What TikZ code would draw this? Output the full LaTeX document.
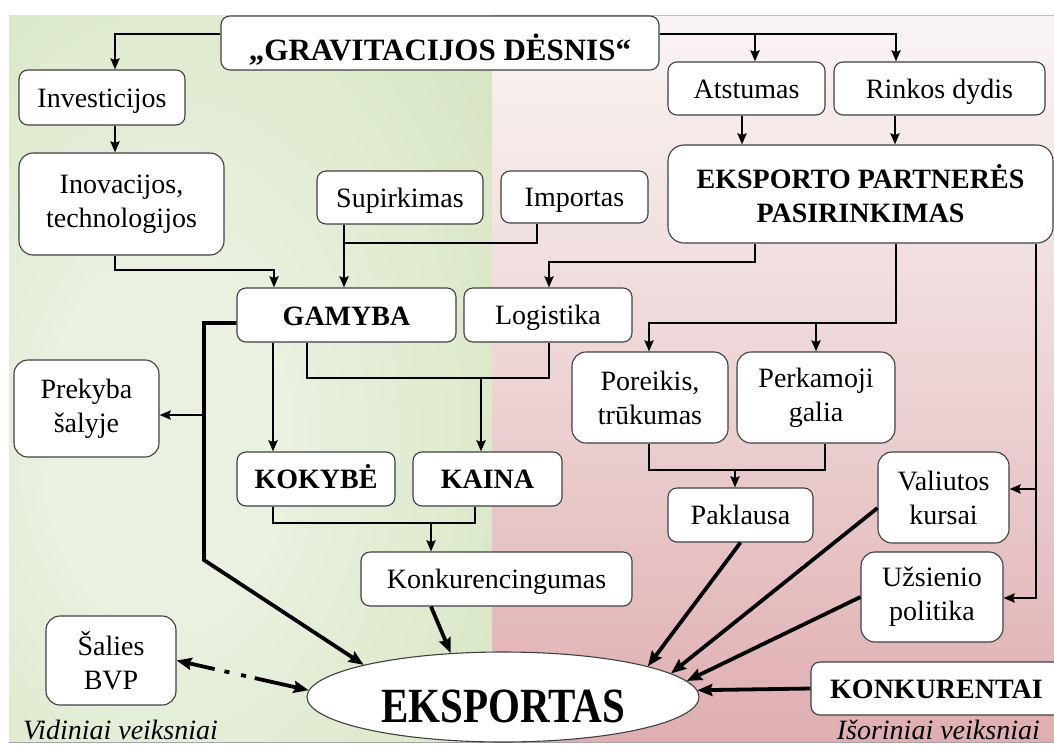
\documentclass[tikz,border=0pt]{standalone}
\usepackage{fontspec}
\setmainfont{Liberation Serif}
\usetikzlibrary{arrows.meta,shapes.geometric}
\definecolor{boxc}{HTML}{404040}
\definecolor{gl}{HTML}{EAF1E0}
\definecolor{gm}{HTML}{D7E5C2}
\definecolor{gd}{HTML}{BCD294}
\definecolor{ptop}{HTML}{FAF4F4}
\definecolor{pmid}{HTML}{EDD4D5}
\definecolor{pbot}{HTML}{DFAEB1}
\pgfdeclareradialshading{greenrad}{\pgfpoint{-10bp}{-5bp}}{color(0bp)=(gl); color(12bp)=(gl); color(40bp)=(gm); color(72bp)=(gd); color(100bp)=(gd)}
\tikzset{
  box/.style={draw=boxc, fill=white, rounded corners=9pt, line width=1.1pt, inner sep=0pt, align=center, font=\fontsize{28}{34}\selectfont},
  bbox/.style={box, font=\fontsize{28}{34}\selectfont\bfseries},
  sl/.style={text height=19pt, text depth=0pt},
  conn/.style={line width=2.8pt},
  arr/.style={line width=2.8pt, -{Stealth[length=11pt,width=9pt,inset=1.5pt]}},
  arrB/.style={line width=3.8pt, -{Stealth[length=15pt,width=12pt,inset=2pt]}},
  dd/.style={line width=3.8pt, {Stealth[length=15pt,width=12pt,inset=2pt]}-{Stealth[length=15pt,width=12pt,inset=2pt]}, dash pattern=on 27pt off 10pt on 5pt off 12pt on 5pt off 9pt on 60pt},
  lbl/.style={inner sep=0pt, font=\fontsize{28}{34}\selectfont\itshape}
}
\begin{document}
\begin{tikzpicture}[x=1pt,y=-1pt]
\useasboundingbox (0,0) rectangle (1054,745);
\fill[white] (0,0) rectangle (1054,745);
\shade[shading=greenrad] (9,15) rectangle (492,742);
\shade[top color=ptop, bottom color=pbot, middle color=pmid] (492,15) rectangle (1054,742);
\draw[pbot, line width=0.8pt] (492,15) -- (1054,15);
\draw[gray!70, line width=1pt] (9,742) -- (1054,742);

% nodes
\node[bbox, font=\fontsize{31}{36}\selectfont\bfseries, text height=34pt, text depth=0pt, minimum width=438pt, minimum height=54pt] (grav) at (440,43) {„GRAVITACIJOS DĖSNIS“};
\node[box, sl, minimum width=166pt, minimum height=55pt] (inv) at (102,97.5) {Investicijos};
\node[box, rounded corners=14pt, minimum width=205pt, minimum height=102pt] (inov) at (121.5,204) {Inovacijos,\\technologijos};
\node[box, sl, minimum width=166pt, minimum height=53pt] (sup) at (400,197.5) {Supirkimas};
\node[box, sl, minimum width=147pt, minimum height=52pt] (imp) at (574.5,197) {Importas};
\node[box, sl, minimum width=157pt, minimum height=53pt] (atst) at (746.5,88.5) {Atstumas};
\node[box, sl, minimum width=211pt, minimum height=53pt] (rink) at (939.5,88.5) {Rinkos dydis};
\node[bbox, rounded corners=16pt, minimum width=385pt, minimum height=98pt] (eks) at (860.5,194) {EKSPORTO PARTNERĖS\\PASIRINKIMAS};
\node[bbox, sl, text height=20pt, minimum width=219pt, minimum height=54pt] (gam) at (346.5,315) {GAMYBA};
\node[box, sl, minimum width=168pt, minimum height=54pt] (log) at (548,315) {Logistika};
\node[box, rounded corners=14pt, minimum width=145pt, minimum height=97pt] (prek) at (86.5,408.5) {Prekyba\\šalyje};
\node[box, rounded corners=14pt, minimum width=156pt, minimum height=91pt] (por) at (650,397.5) {Poreikis,\\trūkumas};
\node[box, rounded corners=14pt, minimum width=158pt, minimum height=91pt] (perk) at (816,397.5) {Perkamoji\\galia};
\node[bbox, sl, minimum width=158pt, minimum height=54pt] (kok) at (316,479) {KOKYBĖ};
\node[bbox, sl, minimum width=149pt, minimum height=54pt] (kain) at (487.5,479) {KAINA};
\node[box, sl, minimum width=145pt, minimum height=54pt] (pak) at (740.5,515) {Paklausa};
\node[box, rounded corners=14pt, minimum width=131pt, minimum height=91pt] (val) at (943.5,497.5) {Valiutos\\kursai};
\node[box, sl, minimum width=271pt, minimum height=54pt] (konk) at (496.5,579) {Konkurencingumas};
\node[box, rounded corners=14pt, minimum width=142pt, minimum height=90pt] (uzs) at (932,597) {Užsienio\\politika};
\node[box, rounded corners=14pt, minimum width=130pt, minimum height=89pt] (bvp) at (111,660.5) {Šalies\\BVP};
\node[bbox, sl, minimum width=251pt, minimum height=53pt] (kon2) at (936.5,688.5) {KONKURENTAI};
\node[ellipse, draw=boxc, fill=white, line width=1.1pt, inner sep=0pt, minimum width=392pt, minimum height=90pt, text height=50pt, text depth=0pt, font=\fontsize{41}{46}\selectfont\bfseries] (exp) at (503,697) {\scalebox{1}[1.2]{EKSPORTAS}};
\node[lbl, anchor=base west] (lv) at (23,739) {Vidiniai veiksniai};
\node[lbl, anchor=base east] (lo) at (1040,739) {Išoriniai veiksniai};

% connectors top
\draw[arr] (grav.west |- 0,34) -| (115,0 |- inv.north);
\draw[arr] (grav.east |- 0,34) -| (896,0 |- rink.north);
\draw[arr] (755,34) -- (755,0 |- atst.north);
\draw[arr] (115,0 |- inv.south) -- (115,0 |- inov.north);
\draw[arr] (115,0 |- inov.south) |- (274,270) -- (274,0 |- gam.north);
\draw[arr] (742,0 |- atst.south) -- (742,0 |- eks.north);
\draw[arr] (895,0 |- rink.south) -- (895,0 |- eks.north);
\draw[arr] (344,0 |- sup.south) -- (344,0 |- gam.north);
\draw[conn] (537,0 |- imp.south) |- (344,243);
\draw[arr] (755,0 |- eks.south) |- (549,262) -- (549,0 |- log.north);
\draw[arr] (896,0 |- eks.south) |- (649,323) -- (649,0 |- por.north);
\draw[arr] (816,323) -- (816,0 |- perk.north);
\draw[arr] (1036,0 |- eks.south) |- (uzs.east |- 0,598);
\draw[arr] (1036,489) -- (val.east |- 0,489);

% middle
\draw[arrB] (gam.west |- 0,323) -- (204,323) -- (204,560) -- (exp.167);
\draw[arr] (204,415) -- (prek.east |- 0,415);
\draw[arr] (273,0 |- gam.south) -- (273,0 |- kok.north);
\draw[conn] (307,0 |- gam.south) -- (307,378) -- (549,378) -- (549,0 |- log.south);
\draw[arr] (481,378) -- (481,0 |- kain.north);
\draw[conn] (273,0 |- kok.south) -- (273,523) -- (475,523) -- (475,0 |- kain.south);
\draw[arr] (431,523) -- (431,0 |- konk.north);
\draw[conn] (649,0 |- por.south) -- (649,470) -- (825,470) -- (825,0 |- perk.south);
\draw[arr] (735,470) -- (735,0 |- pak.north);

% bottom
\draw[arrB] (431,0 |- konk.south) -- (exp.140);
\draw[arrB] (pak.south) -- (exp.12);
\draw[arrB] (val.west |- 0,508) -- (exp.8);
\draw[arrB] (uzs.west) -- (exp.5);
\draw[arrB] (kon2.west) -- (exp.2);
\draw[dd] (bvp.east) -- (exp.178);
\end{tikzpicture}
\end{document}
